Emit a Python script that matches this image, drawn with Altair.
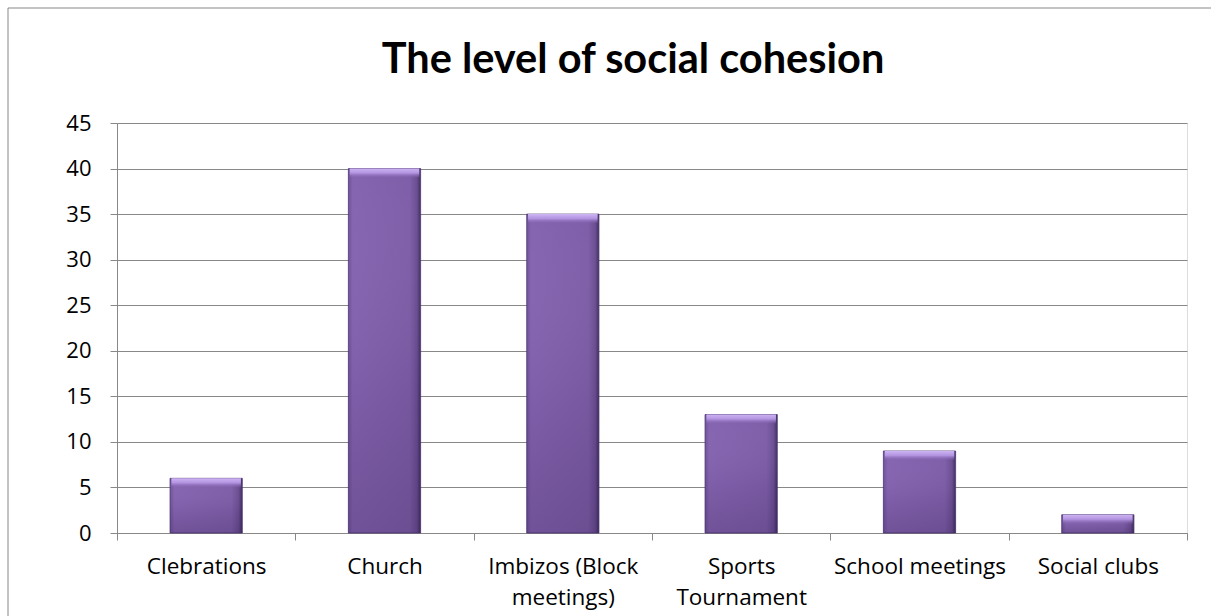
import altair as alt
import pandas as pd

categories = ["Clebrations", "Church", "Imbizos (Block meetings)", "Sports Tournament", "School meetings", "Social clubs"]
values = [6, 40, 35, 13, 9, 2]
label_lines = {
    "Imbizos (Block meetings)": ["Imbizos (Block", "meetings)"],
    "Sports Tournament": ["Sports", "Tournament"],
}
y_ticks = [0, 5, 10, 15, 20, 25, 30, 35, 40, 45]
title_text = "The level of social cohesion"

df = pd.DataFrame({"category": categories, "value": values})

expr = "datum.label"
for k, v in label_lines.items():
    expr = f"datum.label == '{k}' ? ['{v[0]}', '{v[1]}'] : " + expr

W, H = 1070, 410
FONT = "Open Sans"

x_enc = alt.X("category:N", sort=categories, title=None,
              scale=alt.Scale(paddingInner=0, paddingOuter=0),
              axis=alt.Axis(labelExpr=expr, labelAngle=0, labelFontSize=22.5, labelFont=FONT,
                            labelColor="#000", labelPadding=15, labelLineHeight=31,
                            tickBand="extent", tickSize=7, tickColor="#888", domainColor="#888",
                            labelBaseline="top", grid=False))
y_enc = alt.Y("value:Q", title=None,
              scale=alt.Scale(domain=[0, 45], nice=False),
              axis=alt.Axis(values=y_ticks, labelFontSize=22, labelFont=FONT, labelColor="#000",
                            tickSize=7, tickColor="#888", domainColor="#888", labelPadding=19,
                            grid=True, gridColor="#888", gridWidth=1))

base = alt.Chart(df)

main = base.mark_bar(
    width=alt.RelativeBandSize(0.405),
    color=alt.Gradient(gradient="linear", x1=0, x2=1, y1=0, y2=0,
                       stops=[alt.GradientStop(offset=0, color="#6f519a"),
                              alt.GradientStop(offset=0.06, color="#8564b0"),
                              alt.GradientStop(offset=0.85, color="#7e5ea8"),
                              alt.GradientStop(offset=0.95, color="#6a4d92"),
                              alt.GradientStop(offset=1, color="#3f2d5e")]),
    stroke="#4a3670", strokeWidth=0.8,
).encode(x=x_enc, y=y_enc)

shade = base.mark_bar(
    width=alt.RelativeBandSize(0.405),
    color=alt.Gradient(gradient="linear", x1=0, x2=0, y1=0, y2=1,
                       stops=[alt.GradientStop(offset=0, color="rgba(255,255,255,0)"),
                              alt.GradientStop(offset=0.6, color="rgba(40,20,70,0.08)"),
                              alt.GradientStop(offset=1, color="rgba(40,20,70,0.22)")]),
).encode(x=alt.X("category:N", sort=categories), y="value:Q")

bevel = base.mark_bar(
    width=alt.RelativeBandSize(0.39), y2Offset=9,
    color=alt.Gradient(gradient="linear", x1=0, x2=0, y1=0, y2=1,
                       stops=[alt.GradientStop(offset=0, color="#cdb4f3"),
                              alt.GradientStop(offset=0.5, color="#b293e0"),
                              alt.GradientStop(offset=1, color="rgba(133,100,176,0.2)")]),
).encode(x=alt.X("category:N", sort=categories), y="value:Q", y2="value:Q")

one_df = pd.DataFrame({"t": [title_text]})
border_left = alt.Chart(one_df).mark_rule(color="#888", strokeWidth=1).encode(
    x=alt.value(-109), y=alt.value(-115), y2=alt.value(H + 200))
border_top = alt.Chart(one_df).mark_rule(color="#888", strokeWidth=1).encode(
    x=alt.value(-109), x2=alt.value(W + 200), y=alt.value(-115))
title = alt.Chart(one_df).mark_text(
    font="Lato", fontSize=41.5, fontWeight="bold", color="#000", align="center", baseline="alphabetic"
).encode(text="t:N", x=alt.value(516), y=alt.value(-50))

chart = alt.layer(main, shade, bevel, border_left, border_top, title).properties(
    width=W, height=H,
    padding={"left": 117, "top": 123, "right": 24, "bottom": 83},
    autosize=alt.AutoSizeParams(type="none"),
).configure_view(stroke=None).configure(background="white")

chart.save("out.html", embed_options={"renderer": "svg", "actions": False})
